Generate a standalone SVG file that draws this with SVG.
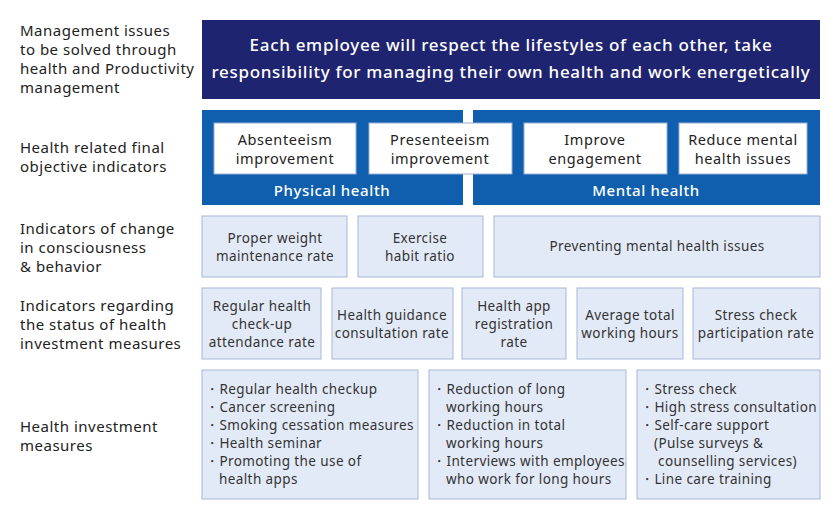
<svg xmlns="http://www.w3.org/2000/svg" width="840" height="520" viewBox="0 0 840 520">
<style>
text{font-family:"Noto Sans","Liberation Sans",sans-serif;letter-spacing:0.4px}
.lbl{font-size:15px;fill:#222;letter-spacing:0.5px}
.top{font-size:17px;fill:#fff;text-anchor:middle;font-weight:500;letter-spacing:0.7px}
.wb{fill:#fff;stroke:#9aaed0;stroke-width:1}
.wt{font-size:14.5px;fill:#222;text-anchor:middle;letter-spacing:0.6px}
.bt{font-size:15px;fill:#fff;text-anchor:middle;font-weight:500;letter-spacing:0.6px}
.lb{fill:#e3eaf7;stroke:#a6b8d9;stroke-width:1}
.t{font-size:13.5px;fill:#333;text-anchor:middle}
.l{font-size:13.5px;fill:#333}
</style>
<g id="labels">
<text class="lbl" x="20" y="36">Management issues</text>
<text class="lbl" x="20" y="55">to be solved through</text>
<text class="lbl" x="20" y="74">health and Productivity</text>
<text class="lbl" x="20" y="93">management</text>
<text class="lbl" x="20" y="153">Health related final</text>
<text class="lbl" x="20" y="172">objective indicators</text>
<text class="lbl" x="20" y="234">Indicators of change</text>
<text class="lbl" x="20" y="253">in consciousness</text>
<text class="lbl" x="20" y="272">&amp; behavior</text>
<text class="lbl" x="20" y="311">Indicators regarding</text>
<text class="lbl" x="20" y="330">the status of health</text>
<text class="lbl" x="20" y="349">investment measures</text>
<text class="lbl" x="20" y="432">Health investment</text>
<text class="lbl" x="20" y="451">measures</text>
</g>
<g id="issue">
<rect x="202" y="20" width="618" height="79" fill="#1f2470"/>
<text class="top" x="511" y="51">Each employee will respect the lifestyles of each other, take</text>
<text class="top" x="511" y="78">responsibility for managing their own health and work energetically</text>
</g>
<g id="physical">
<rect x="202" y="110" width="261" height="95" fill="#0f5fae"/>
<text class="bt" x="332" y="196">Physical health</text>
</g>
<g id="mental">
<rect x="473" y="110" width="347" height="95" fill="#0f5fae"/>
<text class="bt" x="646" y="196">Mental health</text>
</g>
<g id="absenteeism"><rect class="wb" x="214" y="123" width="142" height="51"/><text class="wt" x="285" y="145">Absenteeism</text><text class="wt" x="285" y="164">improvement</text></g>
<g id="presenteeism"><rect class="wb" x="369" y="123" width="143" height="51"/><text class="wt" x="440" y="145">Presenteeism</text><text class="wt" x="440" y="164">improvement</text></g>
<g id="engagement"><rect class="wb" x="524" y="123" width="143" height="51"/><text class="wt" x="595" y="145">Improve</text><text class="wt" x="595" y="164">engagement</text></g>
<g id="reduce"><rect class="wb" x="679" y="123" width="128" height="51"/><text class="wt" x="743" y="145">Reduce mental</text><text class="wt" x="743" y="164">health issues</text></g>
<g id="weight"><rect class="lb" x="202" y="216" width="145" height="61"/><text class="t" x="275" y="243">Proper weight</text><text class="t" x="275" y="261">maintenance rate</text></g>
<g id="exercise"><rect class="lb" x="358" y="216" width="125" height="61"/><text class="t" x="420" y="243">Exercise</text><text class="t" x="420" y="261">habit ratio</text></g>
<g id="prevent"><rect class="lb" x="494" y="216" width="326" height="61"/><text class="t" x="657" y="251">Preventing mental health issues</text></g>
<g id="checkup"><rect class="lb" x="202" y="288" width="119" height="71"/><text class="t" x="262" y="311">Regular health</text><text class="t" x="262" y="329">check-up</text><text class="t" x="262" y="347">attendance rate</text></g>
<g id="guidance"><rect class="lb" x="332" y="288" width="121" height="71"/><text class="t" x="392" y="320">Health guidance</text><text class="t" x="392" y="338">consultation rate</text></g>
<g id="app"><rect class="lb" x="462" y="288" width="104" height="71"/><text class="t" x="514" y="311">Health app</text><text class="t" x="514" y="329">registration</text><text class="t" x="514" y="347">rate</text></g>
<g id="hours"><rect class="lb" x="577" y="288" width="106" height="71"/><text class="t" x="630" y="320">Average total</text><text class="t" x="630" y="338">working hours</text></g>
<g id="stress"><rect class="lb" x="693" y="288" width="127" height="71"/><text class="t" x="756" y="320">Stress check</text><text class="t" x="756" y="338">participation rate</text></g>
<g id="m1"><rect class="lb" x="202" y="370" width="216" height="129"/>
<text class="l" x="205" y="394">・Regular health checkup</text>
<text class="l" x="205" y="412">・Cancer screening</text>
<text class="l" x="205" y="430">・Smoking cessation measures</text>
<text class="l" x="205" y="448">・Health seminar</text>
<text class="l" x="205" y="466">・Promoting the use of</text>
<text class="l" x="219" y="484">health apps</text></g>
<g id="m2"><rect class="lb" x="429" y="370" width="197" height="129"/>
<text class="l" x="432" y="394">・Reduction of long</text>
<text class="l" x="446" y="412">working hours</text>
<text class="l" x="432" y="430">・Reduction in total</text>
<text class="l" x="446" y="448">working hours</text>
<text class="l" x="432" y="466">・Interviews with employees</text>
<text class="l" x="446" y="484">who work for long hours</text></g>
<g id="m3"><rect class="lb" x="637" y="370" width="183" height="129"/>
<text class="l" x="640" y="394">・Stress check</text>
<text class="l" x="640" y="412">・High stress consultation</text>
<text class="l" x="640" y="430">・Self-care support</text>
<text class="l" x="654" y="448">(Pulse surveys &amp;</text>
<text class="l" x="658" y="466">counselling services)</text>
<text class="l" x="640" y="484">・Line care training</text></g>
<g id="connectors"></g>
</svg>
